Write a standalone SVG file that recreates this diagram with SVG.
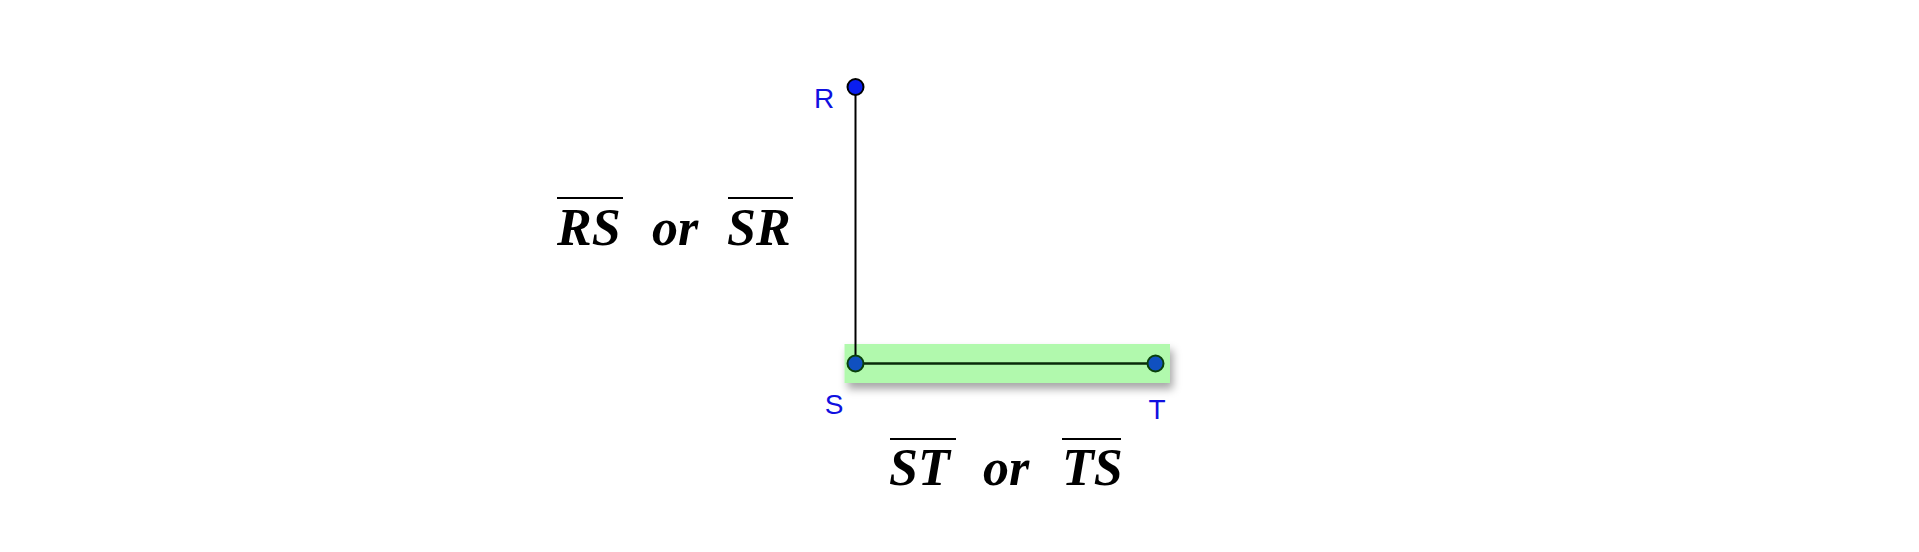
<svg xmlns="http://www.w3.org/2000/svg" width="1919" height="552" viewBox="0 0 1919 552">
<defs>
<style>
.m{font-family:"Liberation Serif",serif;font-style:italic;font-weight:bold;font-size:52px;fill:#000}
.ol{stroke:#000;stroke-width:2}
.lb{font-family:"Liberation Sans",sans-serif;font-size:28px;fill:#1010e0}
.pt{stroke:#000;stroke-width:2}
</style>
<filter id="sh" x="-10%" y="-50%" width="120%" height="200%"><feDropShadow dx="3" dy="6" stdDeviation="4" flood-color="#000" flood-opacity="0.35"/></filter>
</defs>
<rect width="1919" height="552" fill="#fff"/>
<rect x="844.5" y="344" width="325.5" height="39" fill="#b1f9ad" filter="url(#sh)"/>
<g id="connectors">
<line x1="855.5" y1="87" x2="855.5" y2="363.5" stroke="#000" stroke-width="2"/>
<line x1="855.5" y1="363.5" x2="1155.5" y2="363.5" stroke="#0a2a0a" stroke-width="2.5"/>
</g>
<g id="R"><circle cx="855.5" cy="87" r="8" fill="#0a1ef0" class="pt"/><text class="lb" x="824" y="108" text-anchor="middle">R</text></g>
<g id="S"><circle cx="855.5" cy="363.5" r="8" fill="#1050c0" stroke="#0a400a" stroke-width="2"/><text class="lb" x="834" y="414" text-anchor="middle">S</text></g>
<g id="T"><circle cx="1155.5" cy="363.5" r="8" fill="#1050c0" stroke="#0a400a" stroke-width="2"/><text class="lb" x="1157" y="419" text-anchor="middle">T</text></g>
<g id="label-RS">
<text class="m" x="557" y="245">RS</text>
<line class="ol" x1="557" y1="198" x2="623" y2="198"/>
<text class="m" x="652" y="245">or</text>
<text class="m" x="727" y="245">SR</text>
<line class="ol" x1="728" y1="198" x2="793" y2="198"/>
</g>
<g id="label-ST">
<text class="m" x="889" y="485">ST</text>
<line class="ol" x1="890" y1="439" x2="956" y2="439"/>
<text class="m" x="983" y="485">or</text>
<text class="m" x="1062" y="485">TS</text>
<line class="ol" x1="1062" y1="439" x2="1121" y2="439"/>
</g>
</svg>
